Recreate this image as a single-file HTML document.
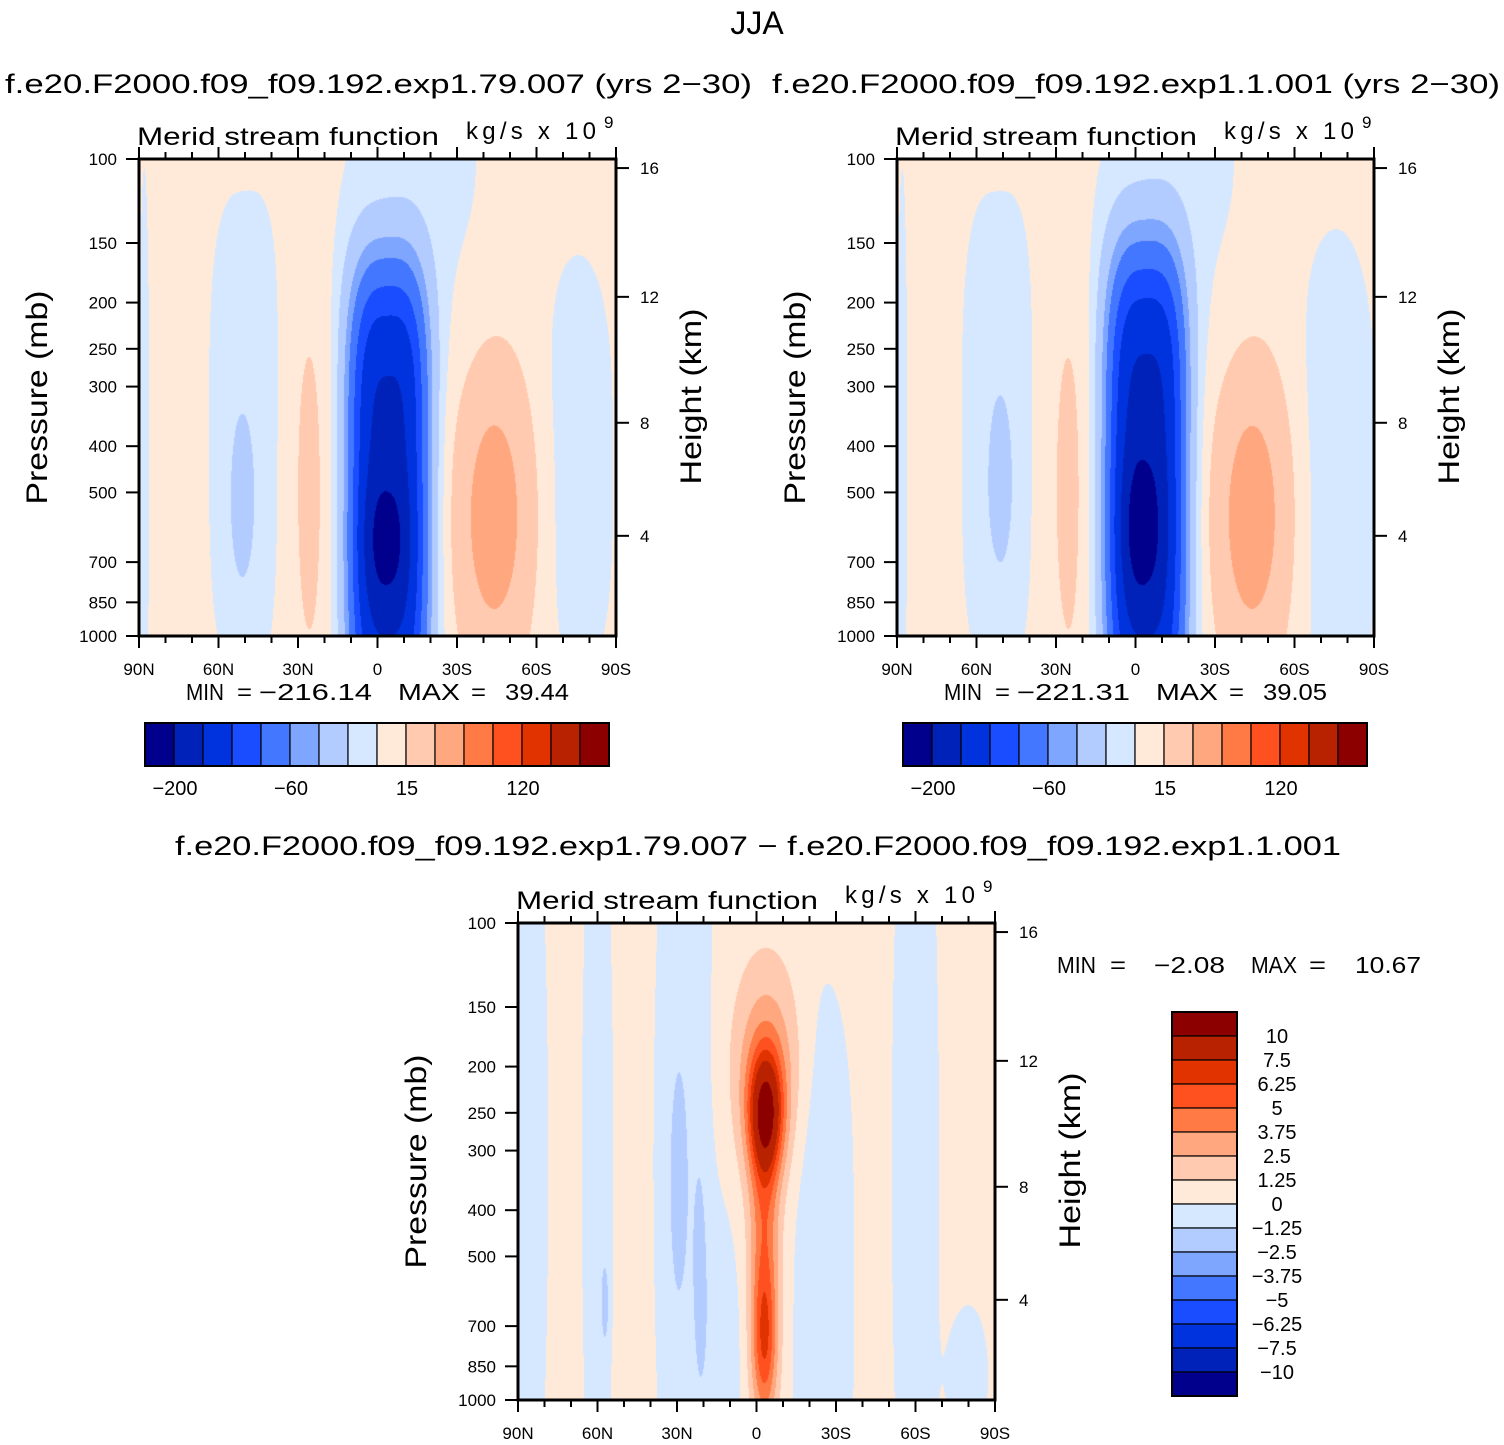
<!DOCTYPE html>
<html><head><meta charset="utf-8">
<style>
html,body{margin:0;padding:0;background:#fff;}
#wrap{position:relative;width:1504px;height:1445px;overflow:hidden;font-family:"Liberation Sans",sans-serif;}
canvas{position:absolute;}
svg{position:absolute;left:0;top:0;}
text{font-family:"Liberation Sans",sans-serif;fill:#000;}
</style></head>
<body>
<div id="wrap">
<canvas id="c1" width="477" height="477" style="left:139px;top:159px"></canvas>
<canvas id="c2" width="477" height="477" style="left:897px;top:159px"></canvas>
<canvas id="c3" width="477" height="477" style="left:518px;top:923px"></canvas>
<svg id="s" width="1504" height="1445">
<text x="757" y="34" font-size="32" text-anchor="middle">JJA</text>
<text x="5" y="93" font-size="27" textLength="747" lengthAdjust="spacingAndGlyphs">f.e20.F2000.f09_f09.192.exp1.79.007 (yrs 2−30)</text>
<text x="772" y="93" font-size="27" textLength="728" lengthAdjust="spacingAndGlyphs">f.e20.F2000.f09_f09.192.exp1.1.001 (yrs 2−30)</text>
<text x="175" y="855" font-size="27" textLength="1166" lengthAdjust="spacingAndGlyphs">f.e20.F2000.f09_f09.192.exp1.79.007 − f.e20.F2000.f09_f09.192.exp1.1.001</text>
<g font-size="23">
<text x="186" y="700" textLength="38" lengthAdjust="spacingAndGlyphs">MIN</text><text x="237" y="700" textLength="15" lengthAdjust="spacingAndGlyphs">=</text><text x="259" y="700" textLength="113" lengthAdjust="spacingAndGlyphs">−216.14</text><text x="398" y="700" textLength="62" lengthAdjust="spacingAndGlyphs">MAX</text><text x="471" y="700" textLength="15" lengthAdjust="spacingAndGlyphs">=</text><text x="505" y="700" textLength="64" lengthAdjust="spacingAndGlyphs">39.44</text>
</g>
<g font-size="23">
<text x="944" y="700" textLength="38" lengthAdjust="spacingAndGlyphs">MIN</text><text x="995" y="700" textLength="15" lengthAdjust="spacingAndGlyphs">=</text><text x="1017" y="700" textLength="113" lengthAdjust="spacingAndGlyphs">−221.31</text><text x="1156" y="700" textLength="62" lengthAdjust="spacingAndGlyphs">MAX</text><text x="1229" y="700" textLength="15" lengthAdjust="spacingAndGlyphs">=</text><text x="1263" y="700" textLength="64" lengthAdjust="spacingAndGlyphs">39.05</text>
</g>
<g font-size="23">
<text x="1057" y="973" textLength="39" lengthAdjust="spacingAndGlyphs">MIN</text><text x="1110" y="973" textLength="16" lengthAdjust="spacingAndGlyphs">=</text><text x="1154" y="973" textLength="71" lengthAdjust="spacingAndGlyphs">−2.08</text><text x="1251" y="973" textLength="46" lengthAdjust="spacingAndGlyphs">MAX</text><text x="1309" y="973" textLength="17" lengthAdjust="spacingAndGlyphs">=</text><text x="1355" y="973" textLength="66" lengthAdjust="spacingAndGlyphs">10.67</text>
</g>
</svg>
</div>
<script>
// ---- data ----
const colors = ["#00008c","#0022b8","#0033dd","#1a4dff","#4477ff","#7fa6ff","#b3ccff","#d6e8ff","#ffead9","#ffcab0","#ffa880","#ff7a45","#ff5020","#e03300","#b82200","#8c0000"];
const levelsTop = [-200,-160,-120,-90,-60,-40,-15,0,15,40,60,90,120,160,200];
const levelsDiff = [-10,-7.5,-6.25,-5,-3.75,-2.5,-1.25,0,1.25,2.5,3.75,5,6.25,7.5,10];
const topBarLabels = ["−200","−60","15","120"];
const topBarLabelIdx = [1,5,9,13];
const diffBarLabels = ["10","7.5","6.25","5","3.75","2.5","1.25","0","−1.25","−2.5","−3.75","−5","−6.25","−7.5","−10"];
const pressTicks = [100,150,200,250,300,400,500,700,850,1000];
const heightTicks = [16,12,8,4];
const heightTickPos = [0.019,0.289,0.553,0.790];
const latTicks = [90,60,30,0,-30,-60,-90];
const latLabels = ["90N","60N","30N","0","30S","60S","90S"];

// blob fields (lat center, pressure center mb, amplitude, lat width, log-p width, lat exponent, p exponent)
const p1Lat = [-4,-14,50,51,25.5,-44,-76,88,-3];
const p1P   = [525,112,380,525,479,560,447,400,631];
const p1Amp = [-175,-9,-14,-20,14,52,-14,-8,-50];
const p1Sx  = [12,22,10.7,3,6,10,9,2,6.5];
const p1Sy  = [0.42,0.3,0.4,0.12,0.38,0.22,0.35,0.6,0.1];
const p1Ex  = [3,2,3,2,2,2,2,2,2];
const p1Ey  = [4,2,3,2,2,2,3,2,2];
const p1Base = 5;

const p2Lat = [-4,-14,52,51,25,-44,-76,88,-2];
const p2P   = [500,112,380,480,479,560,470,400,590];
const p2Amp = [-178,-9,-14,-20,14,52,-15,-8,-52];
const p2Sx  = [12,22,10.7,3,6,10,10,2,6.5];
const p2Sy  = [0.43,0.3,0.4,0.12,0.38,0.22,0.4,0.6,0.12];
const p2Ex  = [3,2,3,2,2,2,2,2,2];
const p2Ey  = [4,2,3,2,2,2,3,2,2];
const p2Base = 5;

const p3Lat = [-3.5,-4,-3,-3,86,60,12,27,30,21,-25,-60,-80,57];
const p3P   = [251,200,760,417,316,316,800,316,355,562,560,316,891,631];
const p3Amp = [8,3,5.5,3.5,-1.5,-1.5,-1.2,-1.5,-0.9,-1.0,-1.5,-1.5,-1.5,-1.5];
const p3Sx  = [4.5,9,3.5,4,5,4,5,8,2.5,2,8,6,5,1];
const p3Sy  = [0.09,0.15,0.12,0.15,0.6,0.6,0.2,0.7,0.18,0.2,0.5,0.7,0.1,0.06];
const p3Ex  = [2,2,2,2,2,2,2,2,2,2,2,2,2,2];
const p3Ey  = [2,2,2,2,2,2,2,2,2,2,3,2,2,2];
const p3Base = 0.5;

function hex(c){return [parseInt(c.substr(1,2),16),parseInt(c.substr(3,2),16),parseInt(c.substr(5,2),16)];}
const rgb = colors.map(hex);

function drawField(id, lat, p, amp, sx, sy, ex, ey, base, levels){
  const cv=document.getElementById(id), ctx=cv.getContext('2d');
  const W=cv.width,H=cv.height, img=ctx.createImageData(W,H);
  const fc=p.map(v=>Math.log10(v/100));
  for(let y=0;y<H;y++){
    const f=(y+0.5)/H;
    for(let x=0;x<W;x++){
      const la=90-(x+0.5)/W*180;
      let v=base;
      for(let k=0;k<lat.length;k++){
        const dx=Math.abs((la-lat[k])/sx[k]), dy=Math.abs((f-fc[k])/sy[k]);
        v+=amp[k]*Math.exp(-0.5*(Math.pow(dx,ex[k])+Math.pow(dy,ey[k])));
      }
      let i=0; while(i<levels.length && v>levels[i]) i++;
      const c=rgb[i], o=(y*W+x)*4;
      img.data[o]=c[0];img.data[o+1]=c[1];img.data[o+2]=c[2];img.data[o+3]=255;
    }
  }
  ctx.putImageData(img,0,0);
}
drawField('c1',p1Lat,p1P,p1Amp,p1Sx,p1Sy,p1Ex,p1Ey,p1Base,levelsTop);
drawField('c2',p2Lat,p2P,p2Amp,p2Sx,p2Sy,p2Ex,p2Ey,p2Base,levelsTop);
drawField('c3',p3Lat,p3P,p3Amp,p3Sx,p3Sy,p3Ex,p3Ey,p3Base,levelsDiff);

const NS="http://www.w3.org/2000/svg", svg=document.getElementById('s');
function mk(tag,attrs,parent){const e=document.createElementNS(NS,tag);for(const k in attrs)e.setAttribute(k,attrs[k]);(parent||svg).appendChild(e);return e;}
function line(x1,y1,x2,y2,w,g){return mk('line',{x1,y1,x2,y2,stroke:'#000','stroke-width':w},g);}
function txt(s,x,y,size,anchor,g){const t=mk('text',{x,y,'font-size':size,'text-anchor':anchor},g);t.textContent=s;return t;}

function axes(X0,Y0,name){
  const W=477,H=477;
  const g=mk('g',{});
  
  
  const fr=mk('rect',{x:X0,y:Y0,width:W,height:H,fill:'none',stroke:'#000','stroke-width':3},g);
  
  
  const lx=la=>X0+(90-la)/180*W;
  for(let la=90;la>=-90;la-=10){
    const major=(la%30===0);
    const len=major?12:7;
    line(lx(la),Y0+H,lx(la),Y0+H+len,2,g);
    line(lx(la),Y0,lx(la),Y0-len,2,g);
  }
  latLabels.forEach((s,i)=>{
    const t=txt(s,lx(latTicks[i]),Y0+H+39,17,'middle',g);
    
    
  });
  pressTicks.forEach(pv=>{
    const y=Y0+Math.log10(pv/100)*H;
    line(X0-13,y,X0,y,2,g);
    const t=txt(String(pv),X0-22,y+6,17,'end',g);
    
    
  });
  heightTicks.forEach((hv,i)=>{
    const y=Y0+heightTickPos[i]*H;
    line(X0+W,y,X0+W+13,y,2,g);
    const t=txt(String(hv),X0+W+24,y+6,17,'start',g);
    
    
  });
  const yt=txt('Pressure (mb)',0,0,30,'middle',g);
  yt.setAttribute('transform','translate('+(X0-92)+','+(Y0+H/2)+') rotate(-90)');
  yt.setAttribute('textLength','214');
  yt.setAttribute('lengthAdjust','spacingAndGlyphs');
  
  
  const ht=txt('Height (km)',0,0,30,'middle',g);
  ht.setAttribute('transform','translate('+(X0+W+85)+','+(Y0+H/2-1)+') rotate(-90)');
  ht.setAttribute('textLength','176');
  ht.setAttribute('lengthAdjust','spacingAndGlyphs');
  
  
  const m=txt('Merid stream function',X0-2,Y0-14,25,'start',g);
  m.setAttribute('textLength','302');
  m.setAttribute('lengthAdjust','spacingAndGlyphs');
  
  
  const u=txt('kg/s x 10',X0+327,Y0-20,24,'start',g);
  u.setAttribute('textLength','130');
  u.setAttribute('lengthAdjust','spacing');
  
  
  const sup=txt('9',X0+465,Y0-31,17,'start',g);
  
  
}
axes(139,159,'left-panel');
axes(897,159,'right-panel');
axes(518,923,'diff-panel');

function hbar(X,Y,name){
  const bw=29,bh=43;
  colors.forEach((c,i)=>{
    const r=mk('rect',{x:X+i*bw,y:Y,width:bw,height:bh,fill:c,stroke:'#000','stroke-width':1.2});
    
    
  });
  const o=mk('rect',{x:X,y:Y,width:bw*16,height:bh,fill:'none',stroke:'#000','stroke-width':2});
  
  
  topBarLabels.forEach((s,i)=>{
    const t=txt(s,X+topBarLabelIdx[i]*bw+1,Y+72,20,'middle');
    
    
  });
}
hbar(145,723,'left-colorbar');
hbar(903,723,'right-colorbar');

(function(){
  const X=1172,Y=1012,bw=65,bh=24;
  for(let i=0;i<16;i++){
    const r=mk('rect',{x:X,y:Y+i*bh,width:bw,height:bh,fill:colors[15-i],stroke:'#000','stroke-width':1.2});
    
    
  }
  const o=mk('rect',{x:X,y:Y,width:bw,height:bh*16,fill:'none',stroke:'#000','stroke-width':2});
  
  
  diffBarLabels.forEach((s,i)=>{
    const t=txt(s,1277,Y+(i+1)*bh+7,20,'middle');
    
    
  });
})();
</script>
</body></html>
